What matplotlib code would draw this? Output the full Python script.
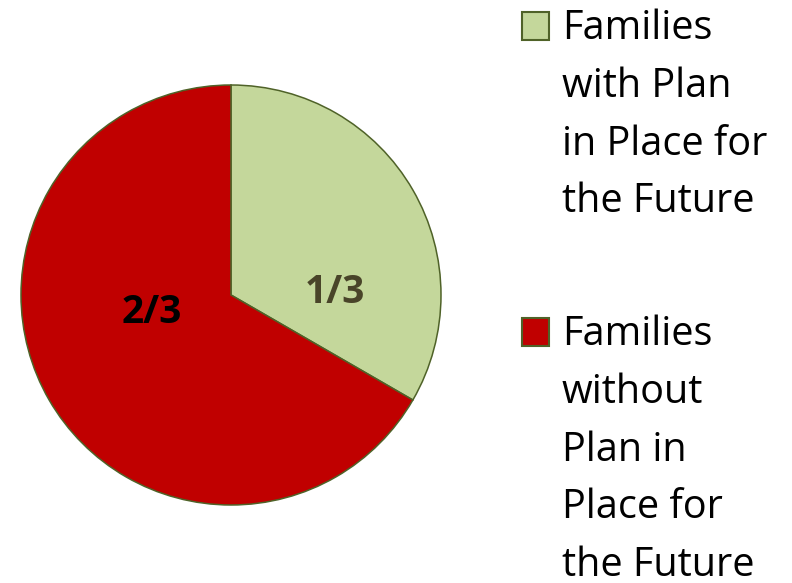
import matplotlib.pyplot as plt
from matplotlib.patches import Rectangle

# data
shares = [1 / 3, 2 / 3]
share_labels = ['1/3', '2/3']
share_label_colors = ['#494429', '#000000']
colors = ['#C4D79B', '#C00000']
legend_lines = [
    ['Families', 'with Plan', 'in Place for', 'the Future'],
    ['Families', 'without', 'Plan in', 'Place for', 'the Future'],
]

plt.rcParams['font.family'] = ['Open Sans', 'DejaVu Sans']

W, H = 792, 583
fig = plt.figure(figsize=(W / 100, H / 100), dpi=100)

# pie centred at (231, 295) px, radius 210 px
cx, cy, r = 231, 295, 210
ax = fig.add_axes([(cx - r) / W, (H - cy - r) / H, 2 * r / W, 2 * r / H])
ax.pie(shares, colors=colors, startangle=90, counterclock=False, radius=1,
       wedgeprops=dict(edgecolor='#4F6228', linewidth=1.1))
ax.set_xlim(-1, 1)
ax.set_ylim(-1, 1)
ax.axis('off')

# slice labels (placed as in the original, not at wedge midpoints)
label_pos = [(0.495, -0.038), (-0.376, -0.133)]
for txt, col, (x, y) in zip(share_labels, share_label_colors, label_pos):
    ax.text(x, y, txt, ha='center', va='baseline', fontsize=28,
            fontweight='bold', color=col)

# manual legend
first_baselines = [39, 345]
step = 57.8
for lines, col, b0 in zip(legend_lines, colors, first_baselines):
    top = b0 - 27
    fig.patches.append(Rectangle((522 / W, 1 - (top + 28) / H), 27 / W, 28 / H,
                                 transform=fig.transFigure, facecolor=col,
                                 edgecolor='#4F6228', linewidth=1.5))
    for i, line in enumerate(lines):
        fig.text(562 / W, 1 - (b0 + i * step) / H, line, ha='left',
                 va='baseline', fontsize=28.5, color='black')

fig.savefig('out.png', dpi=100)
